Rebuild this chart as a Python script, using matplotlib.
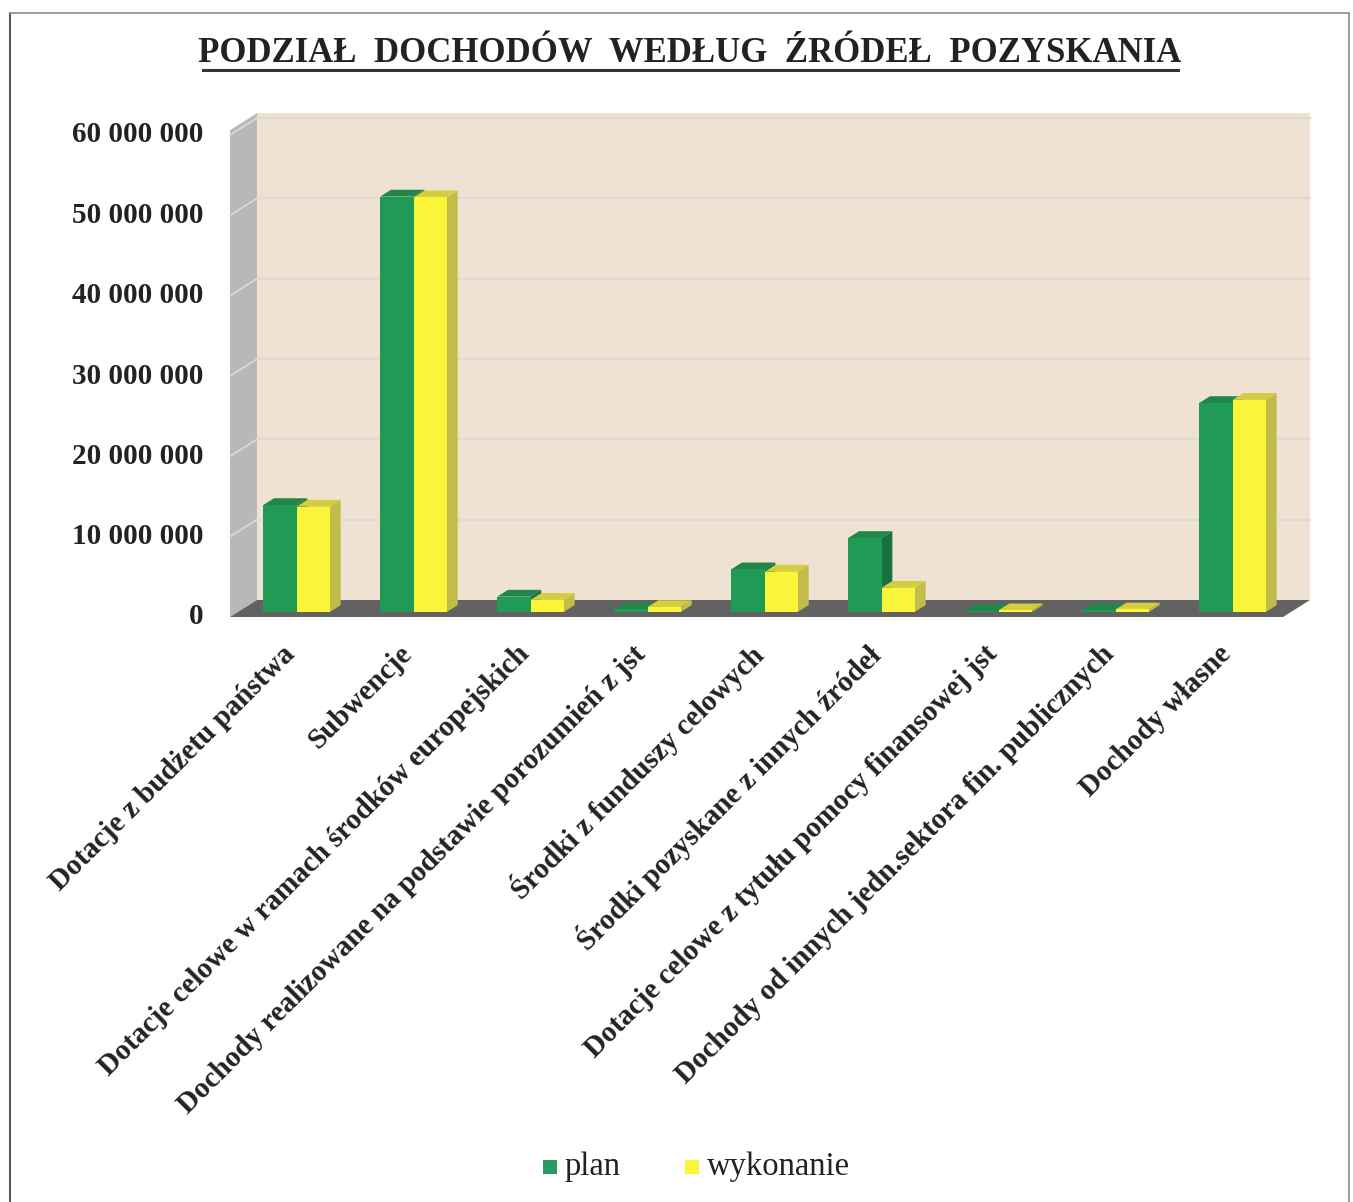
import matplotlib.pyplot as plt
from matplotlib.patches import Polygon, Rectangle
from matplotlib.lines import Line2D
import numpy as np

categories = [
    "Dotacje z budżetu państwa",
    "Subwencje",
    "Dotacje celowe w ramach środków europejskich",
    "Dochody realizowane na podstawie porozumień z jst",
    "Środki z funduszy celowych",
    "Środki pozyskane z innych źródeł",
    "Dotacje celowe z tytułu pomocy finansowej jst",
    "Dochody od innych jedn.sektora fin. publicznych",
    "Dochody własne",
]
plan = [13.3e6, 51.7e6, 1.9e6, 0.3e6, 5.3e6, 9.2e6, 0.1e6, 0.2e6, 26.0e6]
wykonanie = [13.1e6, 51.6e6, 1.5e6, 0.6e6, 5.0e6, 3.0e6, 0.2e6, 0.3e6, 26.4e6]
yticks = [0, 10e6, 20e6, 30e6, 40e6, 50e6, 60e6]
ytick_labels = ["0", "10 000 000", "20 000 000", "30 000 000", "40 000 000",
                "50 000 000", "60 000 000"]

W, H = 1353, 1202
fig = plt.figure(figsize=(W / 100, H / 100), dpi=100)
fig.patch.set_facecolor("white")
ax = fig.add_axes([230 / W, 1 - 617 / H, 1053 / W, 482 / H])
n = len(categories)
ax.set_xlim(-0.5, n - 0.5)
ax.set_ylim(0, 60e6)
ax.axis("off")

# pixel -> data units
ux = n / 1053.0
uy = 60e6 / 482.0
DX, DY = 27 * ux, 17 * uy  # full depth of the 3d box

serif = "Liberation Serif"
green, green_side, green_top = "#1f9b55", "#17703d", "#22864a"
yel, yel_side, yel_top = "#fbf53a", "#c2bd4a", "#d4ce3e"

# walls and floor
x0, x1 = -0.5, n - 0.5
ytop = 60.6e6
ax.add_patch(Polygon([(x0 + DX, DY), (x1 + DX, DY), (x1 + DX, ytop + DY),
                      (x0 + DX, ytop + DY)], closed=True, fc="#efe2d2", ec="none",
                     clip_on=False, zorder=1))
ax.add_patch(Polygon([(x0, 0), (x0 + DX, DY), (x0 + DX, ytop + DY), (x0, ytop)],
                     closed=True, fc="#b8b8b8", ec="none", clip_on=False, zorder=1))
ax.add_patch(Polygon([(x0, 0), (x1, 0), (x1 + DX, DY), (x0 + DX, DY)],
                     closed=True, fc="#626262", ec="none", clip_on=False, zorder=2))
for yv in yticks[1:]:
    ax.add_line(Line2D([x0 + DX, x1 + DX], [yv + DY, yv + DY], color="#e0d9d6",
                       lw=1.5, zorder=1.5, clip_on=False))
    ax.add_line(Line2D([x0, x0 + DX], [yv, yv + DY], color="#dadada",
                       lw=1.2, zorder=1.5, clip_on=False))

# bars (front face at 0.3 depth, bar depth 0.4)
f0, fd = 0.3, 0.4
bw = 0.285
xs = np.arange(n)
bx0, by0 = f0 * DX, f0 * DY
ddx, ddy = fd * DX, fd * DY


def draw_bars(xpos, vals, fc, sc, tc, z):
    bars = ax.bar(xpos + bx0, vals, bw, bottom=by0, color=fc, zorder=z,
                  clip_on=False)
    for b in bars:
        l, r = b.get_x(), b.get_x() + b.get_width()
        bot, top = b.get_y(), b.get_y() + b.get_height()
        ax.add_patch(Polygon([(r, bot), (r, top), (r + ddx, top + ddy), (r + ddx, bot + ddy)],
                             closed=True, fc=sc, ec="none", zorder=z - 0.1, clip_on=False))
        ax.add_patch(Polygon([(l, top), (r, top), (r + ddx, top + ddy), (l + ddx, top + ddy)],
                             closed=True, fc=tc, ec="none", zorder=z - 0.1, clip_on=False))
    return bars


bg = draw_bars(xs - 0.143, np.array(plan), green, green_side, green_top, 3)
by = draw_bars(xs + 0.142, np.array(wykonanie), yel, yel_side, yel_top, 4)

# y tick labels
for yv, lab in zip(yticks, ytick_labels):
    ax.text(-0.5 - 27 * ux, yv, lab, ha="right", va="center", fontsize=21,
            fontweight="bold", family=serif, color="#222222")

# category labels
for i, lab in enumerate(categories):
    ax.text(i + 0.02, -33 * uy, lab, rotation=45, rotation_mode="anchor",
            ha="right", va="center", fontsize=21, fontweight="bold",
            family=serif, color="#222222")

# title
fig.text(690 / W, 1 - 53 / H, "PODZIAŁ  DOCHODÓW  WEDŁUG  ŹRÓDEŁ  POZYSKANIA",
         ha="center", va="center", fontsize=25, fontweight="bold", family=serif,
         color="#222222")
fig.add_artist(Line2D([203 / W, 1178 / W], [1 - 70 / H, 1 - 70 / H], color="#333333",
                      lw=2.2, transform=fig.transFigure))

# legend
fig.add_artist(Rectangle((543 / W, 1 - 1174 / H), 14 / W, 14 / H, fc="#2a9a5e",
                         ec="none", transform=fig.transFigure))
fig.text(565 / W, 1 - 1167 / H, "plan", ha="left", va="center", fontsize=23.5,
         family=serif, color="#222222")
fig.add_artist(Rectangle((685 / W, 1 - 1174 / H), 14 / W, 14 / H, fc="#fbf53a",
                         ec="none", transform=fig.transFigure))
fig.text(707 / W, 1 - 1167 / H, "wykonanie", ha="left", va="center", fontsize=23.5,
         family=serif, color="#222222")

# outer frame
fig.add_artist(Line2D([10 / W, 10 / W], [0, 1 - 13 / H], color="#555a66", lw=1.5,
                      transform=fig.transFigure))
fig.add_artist(Line2D([10 / W, 1349 / W], [1 - 13 / H, 1 - 13 / H], color="#8a8e96",
                      lw=1.2, transform=fig.transFigure))
fig.add_artist(Line2D([1349 / W, 1349 / W], [0, 1 - 13 / H], color="#8a8e96", lw=1.2,
                      transform=fig.transFigure))

fig.savefig("out.png", dpi=100)
